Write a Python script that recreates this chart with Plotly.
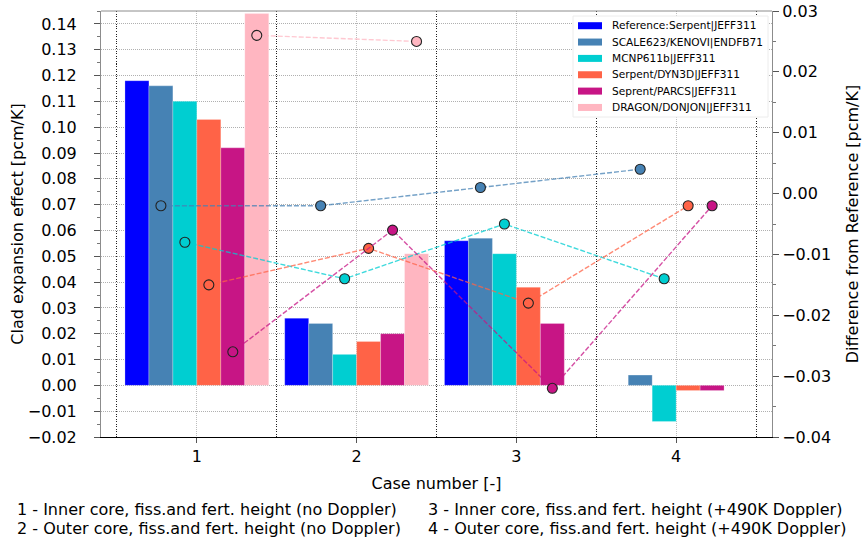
import plotly.graph_objects as go

# Case numbers and series
cases = [1, 2, 3, 4]
series_names = [
    "Reference:Serpent|JEFF311",
    "SCALE623/KENOVI|ENDFB71",
    "MCNP611b|JEFF311",
    "Serpent/DYN3D|JEFF311",
    "Seprent/PARCS|JEFF311",
    "DRAGON/DONJON|JEFF311",
]
colors = ["#0000ff", "#4682b4", "#00ced1", "#ff6347", "#c71585", "#ffb6c1"]

# Clad expansion effect [pcm/K] per case
ref_serpent = [0.118, 0.026, 0.056, 0.0]
scale_kenovi = [0.116, 0.024, 0.057, 0.004]
mcnp = [0.110, 0.012, 0.051, -0.014]
serpent_dyn3d = [0.103, 0.017, 0.038, -0.002]
serpent_parcs = [0.092, 0.020, 0.024, -0.002]
dragon_donjon = [0.144, 0.051, None, None]

# Difference from reference [pcm/K]
diff_scale_kenovi = [-0.002, -0.002, 0.001, 0.004]
diff_mcnp = [-0.008, -0.014, -0.005, -0.014]
diff_serpent_dyn3d = [-0.015, -0.009, -0.018, -0.002]
diff_serpent_parcs = [-0.026, -0.006, -0.032, -0.002]
diff_dragon_donjon = [0.026, 0.025, None, None]

case_notes = [
    "1 - Inner core, fiss.and fert. height (no Doppler)",
    "2 - Outer core, fiss.and fert. height (no Doppler)",
    "3 - Inner core, fiss.and fert. height (+490K Doppler)",
    "4 - Outer core, fiss.and fert. height (+490K Doppler)",
]

bar_values = [ref_serpent, scale_kenovi, mcnp, serpent_dyn3d, serpent_parcs, dragon_donjon]
diff_values = [None, diff_scale_kenovi, diff_mcnp, diff_serpent_dyn3d,
               diff_serpent_parcs, diff_dragon_donjon]

FONT = "DejaVu Sans"
BAR_W = 0.15
n = len(series_names)

# Figure geometry (pixels)
W, H = 862, 541
ML, MR, MT, MB = 101, 90, 11, 104
PW, PH = W - ML - MR, H - MT - MB


def px_x(x):
    return (x - ML) / PW


def px_y(y):
    return (H - MB - y) / PH


def rgba(hex_color, a):
    h = hex_color.lstrip("#")
    r, g, b = int(h[0:2], 16), int(h[2:4], 16), int(h[4:6], 16)
    return f"rgba({r},{g},{b},{a})"


fig = go.Figure()

for name, vals, col in zip(series_names, bar_values, colors):
    fig.add_trace(go.Bar(
        x=cases, y=vals, name=name, showlegend=False,
        marker=dict(color=col, line=dict(color=rgba("#ffffff", 0.3), width=0.8)),
        yaxis="y",
    ))

# Difference markers placed over each series' bar
for i, (diffs, col) in enumerate(zip(diff_values, colors)):
    if diffs is None:
        continue
    offset = (i - (n - 1) / 2) * BAR_W
    xs = [c + offset for c in cases]
    fig.add_trace(go.Scatter(
        x=xs, y=diffs, mode="lines", yaxis="y2", showlegend=False,
        line=dict(color=rgba(col, 0.75), width=1.4, dash="5px,2px"),
        connectgaps=False, hoverinfo="skip",
    ))
    fig.add_trace(go.Scatter(
        x=xs, y=diffs, mode="markers", yaxis="y2", showlegend=False,
        marker=dict(color=col, size=10, line=dict(color="#222222", width=1.1)),
    ))

tick_font = dict(family=FONT, size=16, color="black")
title_font = dict(family=FONT, size=16, color="black")

fig.update_layout(
    width=W, height=H,
    margin=dict(l=ML, r=MR, t=MT, b=MB, autoexpand=False),
    paper_bgcolor="white", plot_bgcolor="white",
    font=dict(family=FONT, size=16, color="black"),
    barmode="group", bargap=0.1, bargroupgap=0,
    showlegend=False,
    xaxis=dict(
        range=[0.4, 4.6], tickmode="array", tickvals=cases,
        ticktext=[str(c) for c in cases], automargin=False,
        tickfont=tick_font, ticks="outside", ticklen=5, tickcolor="#555555",
        showline=True, linecolor="black", linewidth=1,
        showgrid=True, gridcolor="#bdbdbd", griddash="1px,1px", gridwidth=1,
        minor=dict(tick0=0.5, dtick=1, showgrid=True, gridcolor="#222222",
                   griddash="1px,1.5px", gridwidth=1, ticks=""),
        zeroline=False,
        title=dict(text="Case number [-]", font=title_font, standoff=12),
    ),
    yaxis=dict(
        range=[-0.02, 0.145], dtick=0.01, tick0=0, tickformat=".2f",
        automargin=False, ticklabelstandoff=14,
        tickfont=tick_font, ticks="outside", ticklen=6, tickcolor="#555555",
        showline=True, linecolor="#8c8c8c", linewidth=1,
        showgrid=True, gridcolor="#b0b0b0", griddash="1px,1px", gridwidth=1,
        minor=dict(dtick=0.005, ticks="outside", ticklen=3, tickcolor="#777777"),
        zeroline=False,
        title=dict(text="Clad expansion effect [pcm/K]", font=title_font, standoff=0),
    ),
    yaxis2=dict(
        range=[-0.04, 0.03], dtick=0.01, tick0=0, tickformat=".2f",
        overlaying="y", side="right", automargin=False,
        tickfont=tick_font, ticks="outside", ticklen=6, tickcolor="#555555",
        showline=True, linecolor="#8c8c8c", linewidth=1,
        showgrid=False, zeroline=False,
        minor=dict(dtick=0.005, ticks="outside", ticklen=3, tickcolor="#777777"),
        title=dict(text="Difference from Reference [pcm/K]", font=title_font, standoff=19),
    ),
)

# Top frame line
fig.add_shape(type="line", xref="paper", yref="paper", x0=0, x1=1, y0=1, y1=1,
              line=dict(color="#8c8c8c", width=1))

# Legend box with compact rows
fig.add_shape(type="rect", xref="paper", yref="paper", layer="above",
              x0=px_x(573), x1=px_x(768), y0=px_y(117), y1=px_y(16),
              fillcolor="white", line=dict(color="#ececec", width=1))
row_y0, row_step = 25.7, 16.35
for k, (name, col) in enumerate(zip(series_names, colors)):
    yc = row_y0 + k * row_step
    fig.add_shape(type="rect", xref="paper", yref="paper", layer="above",
                  x0=px_x(578), x1=px_x(602), y0=px_y(yc + 3.5), y1=px_y(yc - 3.5),
                  fillcolor=col, line=dict(width=0))
    fig.add_annotation(text=name, xref="paper", yref="paper",
                       x=px_x(610), y=px_y(yc), xanchor="left", yanchor="middle",
                       showarrow=False, font=dict(family=FONT, size=10.6, color="black"))

# Case descriptions below the axis
note_pos = [(15, 509), (15, 528), (426, 509), (426, 528)]
for txt, (px, py) in zip(case_notes, note_pos):
    fig.add_annotation(
        text=txt, xref="paper", yref="paper",
        x=px_x(px), y=px_y(py),
        xanchor="left", yanchor="middle", showarrow=False,
        font=dict(family=FONT, size=16, color="black"),
    )

fig.write_html("out.html")
